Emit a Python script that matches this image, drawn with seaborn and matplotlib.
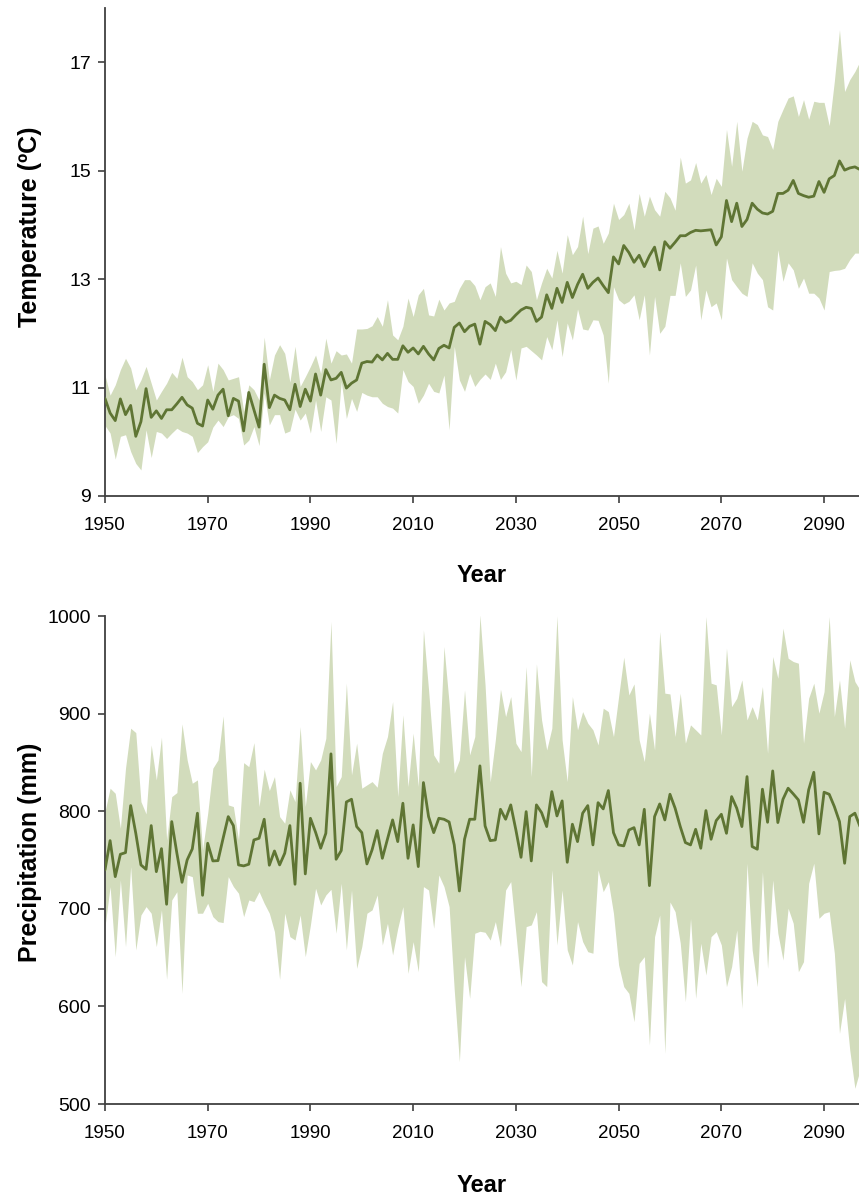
import matplotlib
matplotlib.use("Agg")
import matplotlib.pyplot as plt
import numpy as np
import pandas as pd
import seaborn as sns

years = list(range(1950, 2098))

temp_mean = [10.80, 10.53, 10.39, 10.79, 10.50, 10.67, 10.10, 10.37, 10.98, 10.45,
             10.57, 10.43, 10.59, 10.59, 10.70, 10.82, 10.68, 10.62, 10.34, 10.29,
             10.77, 10.60, 10.86, 10.97, 10.48, 10.80, 10.75, 10.20, 10.91, 10.59,
             10.27, 11.43, 10.63, 10.86, 10.80, 10.77, 10.59, 11.06, 10.65, 10.97,
             10.75, 11.25, 10.86, 11.33, 11.14, 11.17, 11.28, 10.99, 11.08, 11.14,
             11.45, 11.48, 11.47, 11.60, 11.51, 11.63, 11.52, 11.52, 11.77, 11.65,
             11.73, 11.62, 11.76, 11.62, 11.51, 11.72, 11.78, 11.73, 12.11, 12.19,
             12.03, 12.13, 12.17, 11.80, 12.22, 12.16, 12.05, 12.30, 12.20, 12.24,
             12.34, 12.43, 12.48, 12.46, 12.22, 12.30, 12.71, 12.46, 12.83, 12.57,
             12.94, 12.66, 12.90, 13.09, 12.83, 12.94, 13.02, 12.88, 12.75, 13.41,
             13.28, 13.62, 13.49, 13.31, 13.44, 13.23, 13.43, 13.59, 13.17, 13.69,
             13.57, 13.68, 13.80, 13.80, 13.86, 13.90, 13.89, 13.90, 13.91, 13.63,
             13.78, 14.45, 14.06, 14.40, 13.97, 14.10, 14.40, 14.29, 14.22, 14.20,
             14.25, 14.58, 14.58, 14.64, 14.82, 14.58, 14.54, 14.51, 14.53, 14.80,
             14.60, 14.85, 14.91, 15.18, 15.01, 15.05, 15.07, 15.02]

temp_high = [11.23, 10.86, 11.05, 11.33, 11.54, 11.36, 10.96, 11.14, 11.39, 11.08,
             10.77, 10.93, 11.08, 11.28, 11.17, 11.56, 11.20, 11.11, 10.96, 11.05,
             11.42, 10.93, 11.45, 11.33, 11.14, 11.17, 11.20, 10.56, 11.05, 10.96,
             10.77, 11.93, 11.14, 11.60, 11.79, 11.63, 11.10, 11.76, 11.02, 11.20,
             11.39, 11.60, 11.26, 11.91, 11.45, 11.68, 11.60, 11.62, 11.45, 12.08,
             12.08, 12.09, 12.14, 12.31, 12.13, 12.62, 11.97, 11.88, 12.13, 12.65,
             12.31, 12.71, 12.83, 12.34, 12.32, 12.63, 12.43, 12.56, 12.59, 12.83,
             12.99, 12.99, 12.88, 12.62, 12.86, 12.93, 12.68, 13.60, 13.11, 12.93,
             12.96, 12.90, 13.26, 13.14, 12.62, 12.93, 13.20, 13.02, 13.53, 13.11,
             13.82, 13.45, 13.60, 14.16, 13.47, 13.94, 13.98, 13.66, 13.85, 14.40,
             14.10, 14.19, 14.40, 13.91, 14.58, 14.16, 14.53, 14.28, 14.16, 14.62,
             14.50, 14.27, 15.25, 14.77, 14.83, 15.15, 14.77, 14.93, 14.56, 14.86,
             14.71, 15.76, 15.08, 15.91, 14.99, 15.60, 15.91, 15.85, 15.66, 15.63,
             15.39, 15.91, 16.13, 16.34, 16.38, 16.00, 16.31, 15.95, 16.28, 16.26,
             16.26, 15.83, 16.65, 17.60, 16.46, 16.68, 16.83, 17.02]

temp_low = [10.30, 10.16, 9.68, 10.10, 10.13, 9.82, 9.60, 9.48, 10.22, 9.71,
            10.19, 10.16, 10.06, 10.16, 10.25, 10.19, 10.16, 10.10, 9.80, 9.91,
            10.00, 10.27, 10.40, 10.28, 10.46, 10.50, 10.43, 9.94, 10.03, 10.28,
            9.93, 10.90, 10.31, 10.50, 10.50, 10.16, 10.20, 10.60, 10.40, 10.53,
            10.16, 10.77, 10.19, 10.83, 10.77, 9.97, 11.11, 10.43, 10.80, 10.56,
            10.91, 10.86, 10.83, 10.83, 10.71, 10.65, 10.62, 10.53, 11.33, 11.11,
            11.02, 10.71, 10.86, 11.08, 10.93, 10.90, 11.23, 10.22, 11.76, 11.14,
            10.93, 11.26, 11.02, 11.15, 11.25, 11.15, 11.45, 11.15, 11.29, 11.70,
            11.14, 11.73, 11.76, 11.68, 11.60, 11.51, 11.94, 11.70, 12.25, 11.57,
            12.19, 11.88, 12.45, 12.08, 12.06, 12.25, 12.24, 11.97, 11.08, 12.86,
            12.62, 12.54, 12.59, 12.71, 12.25, 12.71, 11.60, 12.68, 12.00, 12.13,
            12.70, 12.70, 13.30, 12.68, 12.80, 13.26, 12.25, 12.80, 12.49, 12.56,
            12.25, 13.39, 12.99, 12.86, 12.74, 12.68, 13.30, 13.11, 12.99, 12.49,
            12.43, 13.54, 12.96, 13.30, 13.17, 12.83, 13.02, 12.74, 12.74, 12.65,
            12.43, 13.14, 13.16, 13.17, 13.20, 13.36, 13.48, 13.48]

prec_mean = [739.9, 769.9, 733.0, 755.9, 757.6, 805.8, 777.4, 745.0, 740.5, 785.3,
             738.1, 761.7, 704.7, 789.4, 757.0, 727.2, 750.1, 761.4, 798.0, 713.9,
             767.2, 749.1, 749.4, 772.3, 794.5, 785.3, 745.0, 744.0, 745.7, 770.6,
             772.3, 791.8, 744.7, 759.3, 745.0, 757.0, 785.3, 725.2, 828.7, 735.8,
             792.8, 778.5, 762.1, 777.4, 858.8, 750.8, 759.7, 809.5, 812.3, 784.3,
             778.1, 746.0, 760.4, 780.2, 751.8, 771.3, 791.1, 768.9, 808.2, 751.8,
             786.0, 743.3, 829.4, 794.5, 778.1, 792.8, 791.8, 789.0, 765.5, 718.3,
             771.3, 791.8, 791.8, 846.5, 785.0, 769.9, 770.6, 802.0, 791.8, 806.5,
             780.8, 752.8, 799.6, 749.1, 806.5, 798.6, 784.3, 820.1, 795.2, 810.6,
             747.7, 786.7, 768.9, 798.0, 805.8, 765.5, 808.8, 802.4, 821.2, 778.1,
             765.5, 764.5, 780.8, 783.2, 765.5, 802.0, 723.8, 794.5, 807.5, 791.1,
             817.4, 803.1, 784.3, 767.9, 765.5, 781.5, 762.1, 800.7, 771.3, 790.4,
             796.9, 777.4, 815.0, 803.1, 784.3, 835.5, 763.8, 761.1, 822.6, 788.7,
             841.3, 788.4, 812.3, 823.6, 817.8, 811.6, 788.7, 821.9, 839.9, 776.8,
             819.5, 817.4, 804.8, 789.4, 746.7, 794.5, 798.0, 784.3]

prec_high = [799.6, 823.6, 818.4, 782.6, 844.1, 885.1, 880.6, 809.9, 797.3, 868.0,
             832.1, 875.9, 770.6, 815.0, 819.1, 889.5, 852.6, 828.7, 832.1, 760.4,
             798.0, 844.1, 852.6, 897.7, 806.5, 804.8, 770.6, 849.8, 845.7, 870.3,
             804.8, 843.1, 821.2, 835.5, 794.5, 787.7, 821.9, 809.9, 886.7, 804.8,
             850.9, 842.3, 852.6, 874.8, 994.4, 825.3, 835.5, 931.2, 837.2, 869.7,
             823.6, 827.0, 830.4, 824.6, 859.4, 876.5, 912.4, 815.0, 898.7, 825.3,
             880.0, 825.3, 985.9, 924.3, 857.7, 849.2, 968.8, 910.7, 839.0, 852.6,
             924.3, 857.7, 876.5, 1001.2, 929.5, 830.0, 873.1, 925.0, 897.0, 917.5,
             869.7, 861.1, 948.2, 835.5, 951.0, 893.6, 862.8, 885.1, 1000.2, 873.1,
             830.4, 917.5, 883.4, 902.1, 890.2, 883.4, 868.0, 905.6, 902.1, 876.5,
             917.5, 957.9, 919.2, 930.5, 873.1, 850.9, 900.5, 862.8, 984.1, 921.0,
             920.2, 876.5, 921.0, 869.7, 888.5, 883.4, 878.2, 999.5, 931.2, 929.5,
             878.2, 967.1, 907.2, 915.8, 934.6, 893.6, 907.2, 893.6, 927.8, 859.4,
             958.5, 936.3, 987.6, 956.8, 953.4, 951.7, 869.7, 915.8, 931.2, 900.5,
             922.6, 999.5, 897.0, 934.6, 885.1, 955.1, 932.9, 924.3]

prec_low = [681.8, 722.8, 651.0, 729.6, 661.3, 743.3, 657.9, 693.7, 702.3, 695.5,
            661.3, 698.9, 627.8, 709.1, 717.6, 613.4, 734.7, 733.0, 695.5, 695.5,
            705.7, 692.0, 686.9, 685.9, 733.0, 722.8, 716.0, 692.0, 709.1, 707.4,
            717.6, 705.7, 695.5, 676.6, 627.8, 695.5, 671.5, 668.1, 693.7, 651.0,
            683.5, 721.1, 704.0, 714.2, 720.0, 675.0, 726.2, 657.9, 719.3, 639.0,
            661.3, 695.5, 698.9, 714.2, 663.0, 685.2, 652.7, 680.1, 702.3, 633.9,
            666.4, 635.6, 722.8, 719.3, 680.1, 734.7, 722.8, 702.3, 616.8, 543.4,
            651.0, 608.3, 675.0, 677.0, 676.0, 668.0, 686.9, 661.3, 719.3, 727.9,
            675.0, 620.3, 681.8, 683.5, 697.1, 625.4, 620.3, 739.9, 663.0, 719.3,
            657.9, 642.5, 686.9, 666.4, 656.1, 654.5, 739.9, 717.6, 727.9, 695.5,
            642.5, 620.3, 613.4, 584.4, 644.2, 651.0, 560.5, 671.5, 693.7, 552.0,
            707.0, 697.1, 665.0, 604.9, 690.3, 608.3, 664.7, 632.2, 671.5, 676.6,
            663.0, 620.3, 640.8, 678.4, 598.1, 746.7, 657.9, 620.3, 738.1, 639.0,
            729.6, 675.0, 647.6, 700.6, 685.2, 635.6, 645.9, 726.2, 746.7, 690.3,
            695.5, 697.1, 654.5, 572.4, 608.3, 555.4, 516.1, 534.8]

year_ticks = list(range(1950, 2091, 20))
temp_ticks = [9, 11, 13, 15, 17]
prec_ticks = [500, 600, 700, 800, 900, 1000]

line_col = "#5f7534"
band_col = "#d2dcbc"

sns.set_style("ticks")
plt.rcParams["font.family"] = ["Liberation Sans", "DejaVu Sans"]

df = pd.DataFrame({"year": years,
                   "temp": temp_mean, "temp_lo": temp_low, "temp_hi": temp_high,
                   "prec": prec_mean, "prec_lo": prec_low, "prec_hi": prec_high})

fig = plt.figure(figsize=(8.59, 11.96), dpi=100)
ax1 = fig.add_axes([0.1222, 0.5853, 0.8778, 0.408])
ax2 = fig.add_axes([0.1222, 0.0769, 0.8778, 0.408])

# axes, column, label, y range, y ticks, label y pos, xlabel pad
panels = [(ax1, "temp", "Temperature (ºC)", (9, 18), temp_ticks, 0.551, 22),
          (ax2, "prec", "Precipitation (mm)", (500, 1000), prec_ticks, 0.516, 23)]

for ax, col, lab, ylim, yt, ly, xpad in panels:
    ax.fill_between(df["year"], df[col + "_lo"], df[col + "_hi"],
                    color=band_col, linewidth=0, zorder=1)
    sns.lineplot(data=df, x="year", y=col, ax=ax, color=line_col,
                 linewidth=2.0, zorder=3)
    ax.set_xlim(1950, 2096.8)
    ax.set_ylim(*ylim)
    ax.set_xticks(year_ticks)
    ax.set_yticks(yt)
    ax.tick_params(length=5, width=1.2, color="#404040", labelcolor="black")
    ax.tick_params(axis="x", labelsize=13.5, pad=10)
    ax.tick_params(axis="y", labelsize=14, pad=5)
    for s in ["top", "right"]:
        ax.spines[s].set_visible(False)
    for s in ["left", "bottom"]:
        ax.spines[s].set_color("#404040")
        ax.spines[s].set_linewidth(1.3)
    ax.set_xlabel("Year", fontsize=17, fontweight="bold", color="black",
                  labelpad=xpad)
    ax.set_ylabel(lab, fontsize=18, fontweight="bold", color="black")
    ax.yaxis.set_label_coords(-0.0836, ly)

fig.savefig("out.png", dpi=100)
